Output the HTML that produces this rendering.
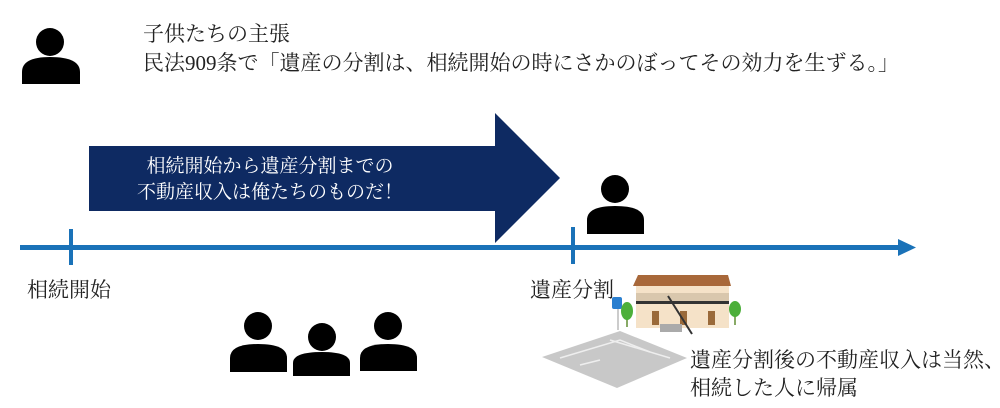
<!DOCTYPE html>
<html><head><meta charset="utf-8"><style>
body{margin:0;width:1000px;height:408px;background:#fff;overflow:hidden;position:relative;font-family:"Liberation Serif","Noto Serif CJK SC",serif;}
.t{position:absolute;font-size:21px;color:#222;line-height:24px;white-space:nowrap}
</style></head><body>
<svg width="1000" height="408" style="position:absolute;left:0;top:0">
<rect x="20" y="245" width="882" height="5" fill="#1a72b8"/>
<polygon points="898,239 916,247.5 898,256" fill="#1a72b8"/>
<rect x="69" y="229" width="4" height="36" fill="#1a72b8"/>
<rect x="571" y="227" width="4" height="37" fill="#1a72b8"/>
<polygon points="89,146 495,146 495,113 560,178 495,243 495,211 89,211" fill="#0e2a62"/>
<g fill="#000">
<circle cx="50" cy="42" r="14"/><path d="M22,84 V72 Q22,57 50,57 Q80,57 80,72 V84Z"/>
<circle cx="615" cy="189" r="14"/><path d="M587,234 V220 Q587,206 615,206 Q644,206 644,220 V234Z"/>
<circle cx="258" cy="326" r="14"/><path d="M230,372 V358 Q230,344 258,344 Q287,344 287,358 V372Z"/>
<circle cx="322" cy="337" r="14"/><path d="M293,376 V363 Q293,352 322,352 Q350,352 350,363 V376Z"/>
<circle cx="388" cy="326" r="14"/><path d="M360,371 V358 Q360,344 388,344 Q417,344 417,358 V371Z"/>
</g>
<polygon points="542,357 620,331 687,358 617,388" fill="#c8c8c8"/>
<g stroke="#eee" stroke-width="1.5" fill="none">
<polyline points="560,358 620,340 650,352"/><line x1="580" y1="365" x2="600" y2="360"/>
<polyline points="610,340 670,358"/>
</g>
<line x1="618" y1="303" x2="618" y2="330" stroke="#bbb" stroke-width="1.5"/>
<rect x="612" y="297" width="10" height="12" rx="2" fill="#2a7fd0"/>
<rect x="626" y="315" width="2" height="12" fill="#8a6"/>
<ellipse cx="627" cy="311" rx="6" ry="9" fill="#4caf3a"/>
<rect x="734" y="313" width="2" height="12" fill="#8a6"/>
<ellipse cx="735" cy="309" rx="6" ry="8" fill="#4caf3a"/>
<polygon points="633,286 638,275 728,275 731,286" fill="#a8683a"/>
<rect x="636" y="286" width="93" height="42" fill="#f5e2c8"/>
<rect x="636" y="293" width="93" height="8" fill="#d9c7ad"/>
<rect x="636" y="301" width="93" height="3" fill="#333"/>
<rect x="652" y="311" width="7" height="14" fill="#9a6a3a"/>
<rect x="680" y="311" width="7" height="14" fill="#9a6a3a"/>
<rect x="708" y="311" width="7" height="14" fill="#9a6a3a"/>
<line x1="668" y1="296" x2="692" y2="334" stroke="#333" stroke-width="2"/>
<rect x="660" y="324" width="22" height="8" fill="#aaa"/>
</svg>
<div class="t" style="left:143px;top:22px">子供たちの主張</div>
<div class="t" style="left:143px;top:51px">民法909条で「遺産の分割は、相続開始の時にさかのぼってその効力を生ずる。」</div>
<div class="t" style="left:85px;top:154px;width:370px;text-align:center;color:#fff;font-size:19px;line-height:26px;white-space:normal">相続開始から遺産分割までの<br>不動産収入は俺たちのものだ！</div>
<div class="t" style="left:27px;top:278px">相続開始</div>
<div class="t" style="left:530px;top:278px">遺産分割</div>
<div class="t" style="left:690px;top:348px">遺産分割後の不動産収入は当然、</div>
<div class="t" style="left:690px;top:376px">相続した人に帰属</div>
</body></html>
